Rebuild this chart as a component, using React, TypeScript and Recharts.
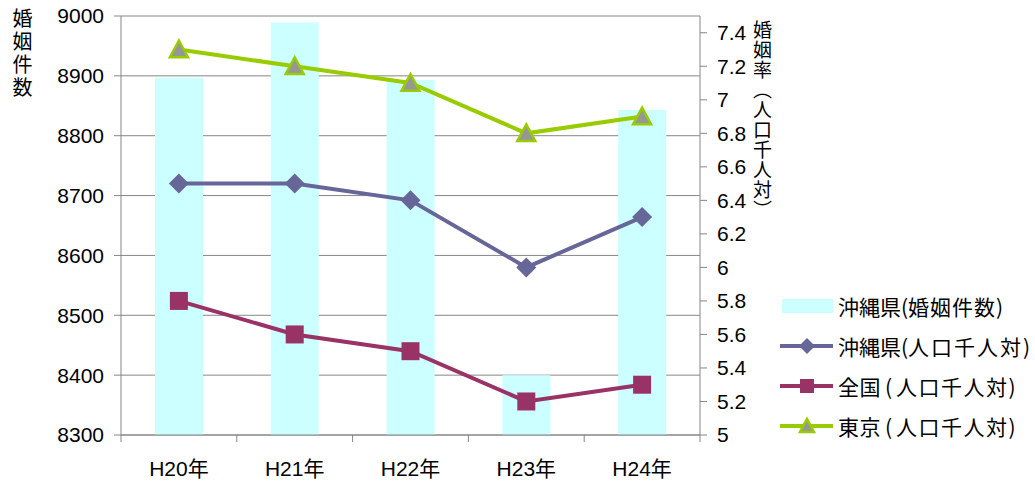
import { Bar, CartesianGrid, ComposedChart, Legend, Line, XAxis, YAxis } from "recharts";

const categories = ["H20年", "H21年", "H22年", "H23年", "H24年"];
const okinawaCount = [8897, 8989, 8893, 8400, 8843];
const okinawaRate = [6.5, 6.5, 6.4, 6.0, 6.3];
const nationalRate = [5.8, 5.6, 5.5, 5.2, 5.3];
const tokyoRate = [7.3, 7.2, 7.1, 6.8, 6.9];

const countTicks = [8300, 8400, 8500, 8600, 8700, 8800, 8900, 9000];
const rateTicks = [5, 5.2, 5.4, 5.6, 5.8, 6, 6.2, 6.4, 6.6, 6.8, 7, 7.2, 7.4];

const seriesNames = [
  "沖縄県(婚姻件数)",
  "沖縄県(人口千人対)",
  "全国(人口千人対)",
  "東京(人口千人対)",
];

const data = categories.map((name, i) => ({
  name,
  count: okinawaCount[i],
  okinawa: okinawaRate[i],
  national: nationalRate[i],
  tokyo: tokyoRate[i],
}));

const FONT = "'Liberation Sans', Arial, 'Noto Sans CJK JP', sans-serif";
const CJK = "'Noto Sans CJK JP', sans-serif";
const AXIS = "#868686";
const BAR = "#CCFFFF";
const PURPLE = "#666699";
const MAROON = "#993366";
const GREEN = "#99CC00";

// per legend row: spacing of the prefix, gap around "(", spacing inside the parens
const legendSpacing = [
  { pre: 0, gap: 0, inner: 1 },
  { pre: 0, gap: 0, inner: 2 },
  { pre: 0.5, gap: 4, inner: 1.5 },
  { pre: 0.5, gap: 4, inner: 1.5 },
];

function Diamond({ cx, cy, r = 10 }: { cx: number; cy: number; r?: number }) {
  return (
    <polygon
      points={`${cx},${cy - r} ${cx + r},${cy} ${cx},${cy + r} ${cx - r},${cy}`}
      fill={PURPLE}
    />
  );
}

function Square({ cx, cy, r = 9 }: { cx: number; cy: number; r?: number }) {
  return <rect x={cx - r} y={cy - r} width={r * 2} height={r * 2} fill={MAROON} />;
}

function Triangle({ cx, cy, r = 9 }: { cx: number; cy: number; r?: number }) {
  return (
    <polygon
      points={`${cx},${cy - r} ${cx + r},${cy + r * 0.85} ${cx - r},${cy + r * 0.85}`}
      fill="#969696"
      stroke={GREEN}
      strokeWidth={2.5}
    />
  );
}

function CategoryTick(props: any) {
  const { x, y, payload, index } = props;
  const half = payload.offset ?? 57.9;
  return (
    <g>
      <line x1={x - half} x2={x - half} y1={y - 7} y2={y} stroke={AXIS} />
      {index === categories.length - 1 && (
        <line x1={x + half} x2={x + half} y1={y - 7} y2={y} stroke={AXIS} />
      )}
      <text x={x} y={y + 34} textAnchor="middle" fontSize={21} fill="#000" fontFamily={FONT}>
        {payload.value}
      </text>
    </g>
  );
}

function LegendBox() {
  const icons = [
    <rect key="b" x={2} y={5} width={51} height={14} fill={BAR} />,
    <g key="o">
      <line x1={0} x2={53} y1={12} y2={12} stroke={PURPLE} strokeWidth={4} />
      <Diamond cx={27} cy={12} r={8} />
    </g>,
    <g key="n">
      <line x1={0} x2={53} y1={12} y2={12} stroke={MAROON} strokeWidth={4} />
      <Square cx={27} cy={12} r={7} />
    </g>,
    <g key="t">
      <line x1={0} x2={53} y1={12} y2={12} stroke={GREEN} strokeWidth={4} />
      <Triangle cx={27} cy={12} r={7} />
    </g>,
  ];
  return (
    <div style={{ fontFamily: CJK, fontSize: 21, color: "#000" }}>
      {seriesNames.map((s, i) => {
        const [pre, rest] = s.split("(");
        const inner = rest.replace(")", "");
        const sp = legendSpacing[i];
        return (
          <div key={s} style={{ display: "flex", alignItems: "center", height: 40, whiteSpace: "nowrap" }}>
            <svg width={58} height={24} style={{ flex: "none" }}>
              {icons[i]}
            </svg>
            <span style={{ marginLeft: 0, letterSpacing: sp.pre }}>{pre}</span>
            <span style={{ marginLeft: sp.gap, marginRight: sp.gap }}>(</span>
            <span style={{ letterSpacing: sp.inner }}>{inner}</span>
            <span>)</span>
          </div>
        );
      })}
    </div>
  );
}

export default function App() {
  return (
    <div
      style={{
        position: "absolute",
        left: 0,
        top: 0,
        width: 1035,
        height: 481,
        overflow: "hidden",
        background: "#fff",
        fontFamily: FONT,
      }}
    >
      <ComposedChart
        width={1035}
        height={481}
        data={data}
        margin={{ top: 16, right: 265, bottom: 0, left: 0 }}
        barCategoryGap={34}
      >
        <CartesianGrid yAxisId="left" vertical={false} stroke={AXIS} strokeWidth={1} />
        <XAxis
          dataKey="name"
          height={46}
          stroke={AXIS}
          tickSize={7}
          tickMargin={0}
          tickLine={false}
          tick={<CategoryTick />}
          interval={0}
        />
        <YAxis
          yAxisId="left"
          width={121}
          domain={[8300, 9000]}
          ticks={countTicks}
          interval={0}
          stroke={AXIS}
          tickSize={7}
          tickMargin={10}
          tick={{ fill: "#000", fontSize: 21, fontFamily: FONT }}
        />
        <YAxis
          yAxisId="right"
          orientation="right"
          width={70}
          domain={[5, 7.5]}
          ticks={rateTicks}
          interval={0}
          allowDataOverflow
          stroke={AXIS}
          tickSize={7}
          tickMargin={10}
          tick={{ fill: "#000", fontSize: 21, fontFamily: FONT }}
        />
        <Bar yAxisId="left" dataKey="count" fill={BAR} isAnimationActive={false} />
        <Line
          yAxisId="right"
          dataKey="okinawa"
          stroke={PURPLE}
          strokeWidth={4}
          isAnimationActive={false}
          dot={(p: any) => <Diamond key={`o${p.index}`} cx={p.cx} cy={p.cy} />}
        />
        <Line
          yAxisId="right"
          dataKey="national"
          stroke={MAROON}
          strokeWidth={4}
          isAnimationActive={false}
          dot={(p: any) => <Square key={`n${p.index}`} cx={p.cx} cy={p.cy} />}
        />
        <Line
          yAxisId="right"
          dataKey="tokyo"
          stroke={GREEN}
          strokeWidth={4}
          isAnimationActive={false}
          dot={(p: any) => <Triangle key={`t${p.index}`} cx={p.cx} cy={p.cy} />}
        />
        <Legend
          layout="vertical"
          align="center"
          verticalAlign="middle"
          wrapperStyle={{ left: 780, top: 286, width: 280 }}
          content={() => <LegendBox />}
        />
      </ComposedChart>
      <div
        style={{
          position: "absolute",
          left: 12,
          top: 8,
          writingMode: "vertical-rl",
          fontFamily: CJK,
          fontSize: 20,
          letterSpacing: 3,
          lineHeight: 1,
        }}
      >
        婚姻件数
      </div>
      <div
        style={{
          position: "absolute",
          left: 753,
          top: 20,
          writingMode: "vertical-rl",
          fontFamily: CJK,
          fontSize: 19,
          letterSpacing: 1,
          lineHeight: 1,
        }}
      >
        婚姻率（人口千人対）
      </div>
    </div>
  );
}
